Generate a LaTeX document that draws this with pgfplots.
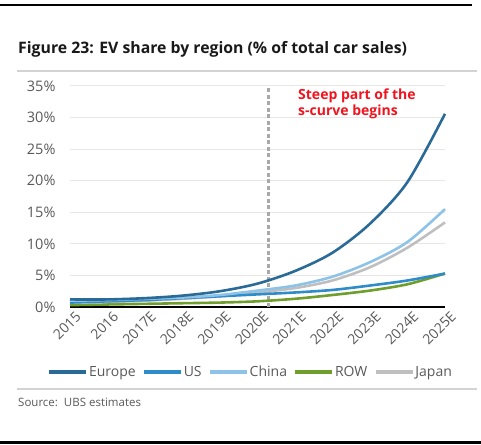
\documentclass[border=0pt]{standalone}
\usepackage{pgfplots}
\pgfplotsset{compat=1.18}
\usepackage{fontspec}
\setmainfont{Open Sans}
\definecolor{ceurope}{HTML}{2A6A96}
\definecolor{cus}{HTML}{2E8CCB}
\definecolor{cchina}{HTML}{8DC3E6}
\definecolor{crow}{HTML}{6F9E2C}
\definecolor{cjapan}{HTML}{BFBFBF}
\definecolor{ctxt}{HTML}{595959}
\definecolor{cgrid}{HTML}{E6E6E6}
\definecolor{csep}{HTML}{D3D3D3}
\definecolor{cdash}{HTML}{A9A9A9}
\definecolor{cred}{HTML}{F0141E}
\begin{document}
\begin{tikzpicture}
\useasboundingbox (0pt,0pt) rectangle (481pt,444pt);
% frame lines
\draw[black, line width=2pt] (0pt,438.5pt) -- (472pt,438.5pt);
\draw[black, line width=2.5pt] (0pt,1.5pt) -- (481pt,1.5pt);
\draw[csep, line width=2pt] (17pt,373pt) -- (477pt,373pt);
\draw[csep, line width=2pt] (17pt,55pt) -- (477pt,55pt);
\node[anchor=base west, inner sep=0pt, text=black!90] at (18pt,390pt) {\fontsize{15.8}{18}\selectfont\bfseries Figure 23: EV share by region (\% of total car sales)};
\node[anchor=base west, inner sep=0pt, text=ctxt] at (18pt,38pt) {\fontsize{11.5}{13}\selectfont Source:\ \ UBS estimates};
\begin{axis}[
  at={(70pt,137pt)}, anchor=south west,
  scale only axis, width=375pt, height=221pt,
  xmin=0, xmax=10, ymin=0, ymax=35,
  axis x line*=bottom, axis y line*=left,
  x axis line style={black, line width=1.3pt, -},
  y axis line style={draw=none},
  xtick={0,...,10},
  xticklabels={2015,2016,2017E,2018E,2019E,2020E,2021E,2022E,2023E,2024E,2025E},
  xtick style={draw=none},
  xticklabel style={rotate=45, anchor=east, text=ctxt, font=\fontsize{14}{16}\selectfont, inner sep=0pt, yshift=-11pt, xshift=1pt},
  ytick={0,5,...,35},
  yticklabels={0\%,5\%,10\%,15\%,20\%,25\%,30\%,35\%},
  ymajorgrids, grid style={cgrid, line width=1pt},
  ytick style={draw=none},
  yticklabel style={text=ctxt, font=\fontsize{14.5}{16}\selectfont, anchor=east, xshift=-11pt},
  /pgf/number format/assume math mode=true,
  clip=false,
  legend columns=5,
  legend style={at={(0.48,-0.294)}, anchor=center, draw=none, fill=none,
    font=\fontsize{14}{16}\selectfont, text=ctxt, inner sep=0pt,
    nodes={inner sep=0.5pt},
    /tikz/every odd column/.append style={column sep=0.5pt},
    /tikz/every even column/.append style={column sep=6pt}},
  legend image code/.code={\draw[#1, line width=3.5pt] (0pt,0pt) -- (37pt,0pt);},
  every axis plot/.append style={line width=2.6pt, smooth},
]
\addplot[cdash, dash pattern=on 4pt off 2.5pt, line width=2.6pt, sharp plot, forget plot] coordinates {(5.3,0) (5.3,35)};
\addplot[crow, forget plot] coordinates {(0,0.3) (1,0.4) (2,0.5) (3,0.6) (4,0.7) (5,0.9) (6,1.3) (7,1.9) (8,2.6) (9,3.6) (10,5.3)};
\addplot[cjapan, forget plot] coordinates {(0,0.8) (1,0.8) (2,1.0) (3,1.3) (4,1.7) (5,2.3) (6,3.0) (7,4.2) (8,6.3) (9,9.4) (10,13.4)};
\addplot[cus, forget plot] coordinates {(0,0.7) (1,0.9) (2,1.1) (3,1.4) (4,1.7) (5,2.0) (6,2.3) (7,2.7) (8,3.4) (9,4.2) (10,5.3)};
\addplot[cchina, forget plot] coordinates {(0,1.0) (1,1.1) (2,1.3) (3,1.5) (4,1.9) (5,2.6) (6,3.4) (7,4.8) (8,7.1) (9,10.3) (10,15.5)};
\addplot[ceurope, forget plot] coordinates {(0,1.2) (1,1.2) (2,1.4) (3,1.8) (4,2.5) (5,3.7) (6,5.7) (7,8.6) (8,13.2) (9,19.8) (10,30.6)};
\addlegendimage{ceurope}\addlegendentry{Europe}
\addlegendimage{cus}\addlegendentry{US}
\addlegendimage{cchina}\addlegendentry{China}
\addlegendimage{crow}\addlegendentry{ROW}
\addlegendimage{cjapan}\addlegendentry{Japan}
\node[anchor=north west, align=left, text=cred, inner sep=0pt, font=\fontsize{14}{16}\selectfont\bfseries] at (axis cs:6.08,34.6) {Steep part of the\\s-curve begins};
\end{axis}
\end{tikzpicture}
\end{document}
